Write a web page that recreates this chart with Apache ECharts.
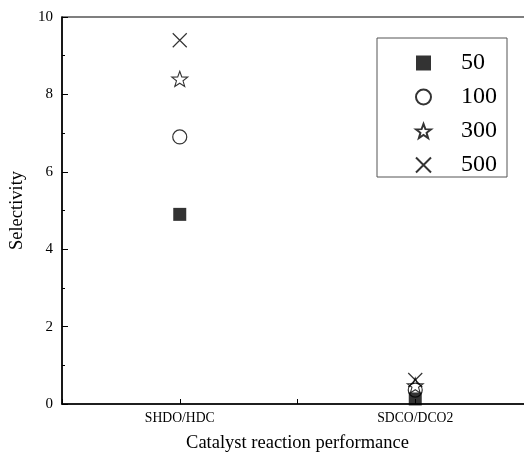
<!DOCTYPE html>
<html>
<head>
<meta charset="utf-8">
<script src="https://cdn.jsdelivr.net/npm/echarts@6/dist/echarts.min.js"></script>
<style>html,body{margin:0;padding:0;background:#fff}#c{width:524px;height:456px}</style>
</head>
<body>
<div id="c"></div>
<script>
// Data
const categories = ['SHDO/HDC', 'SDCO/DCO2'];
const seriesNames = ['50', '100', '300', '500'];
const vals50  = [4.9, 0.13];
const vals100 = [6.9, 0.36];
const vals300 = [8.4, 0.48];
const vals500 = [9.4, 0.62];
const yTicks = [0, 2, 4, 6, 8, 10];

const FONT = '"Liberation Serif", "Times New Roman", serif';
const STAR = 'path://M10,0L12.41,6.68L19.51,6.91L13.90,11.27L15.88,18.09L10,14.1L4.12,18.09L6.10,11.27L0.49,6.91L7.59,6.68Z';
const CROSS = 'path://M0,0L10,10M0,10L10,0';

const allVals = [vals50, vals100, vals300, vals500];
const styles = [
  { symbol: 'rect', symbolSize: 13, itemStyle: { color: '#000', borderColor: '#000', borderWidth: 0 } },
  { symbol: 'circle', symbolSize: 14, itemStyle: { color: 'rgba(0,0,0,0)', borderColor: '#000', borderWidth: 1.2 } },
  { symbol: STAR, symbolSize: 16, itemStyle: { color: 'rgba(0,0,0,0)', borderColor: '#000', borderWidth: 1.1 } },
  { symbol: CROSS, symbolSize: 14, itemStyle: { color: 'rgba(0,0,0,0)', borderColor: '#000', borderWidth: 1.2 } }
];

const series = seriesNames.map((n, i) => Object.assign({
  name: n,
  type: 'scatter',
  symbolKeepAspect: true,
  clip: false,
  data: allVals[i].map((v, j) => [j + 1, v])
}, styles[i]));

const chart = echarts.init(document.getElementById('c'), null, { renderer: 'canvas' });
chart.setOption({
  animation: false,
  backgroundColor: '#fff',
  textStyle: { fontFamily: FONT, color: '#000' },
  grid: {
    left: 62, top: 17, right: -9, bottom: 52,
    outerBoundsMode: 'none', containLabel: false,
    show: true, borderColor: '#000', borderWidth: 1.2, backgroundColor: 'transparent'
  },
  legend: {
    orient: 'vertical',
    left: 377, top: 38,
    padding: [13, 10, 0, 38],
    itemWidth: 15, itemHeight: 15, itemGap: 10,
    borderColor: '#555', borderWidth: 1,
    textStyle: { fontFamily: FONT, fontSize: 24, color: '#000', lineHeight: 24, padding: [0, 0, 0, 25] },
    data: seriesNames
  },
  xAxis: {
    type: 'value',
    min: 0.5, max: 2.5, interval: 0.5,
    name: 'Catalyst reaction performance',
    nameLocation: 'middle', nameGap: 30,
    nameTextStyle: { fontFamily: FONT, fontSize: 18.5, color: '#000' },
    axisLine: { show: true, lineStyle: { color: '#000', width: 1.5 } },
    axisTick: { show: true, inside: true, length: 5, lineStyle: { color: '#000', width: 1 } },
    axisLabel: {
      fontFamily: FONT, fontSize: 13.7, color: '#000', margin: 7,
      formatter: v => (Number.isInteger(v) && categories[v - 1]) ? categories[v - 1] : ''
    },
    splitLine: { show: false }
  },
  yAxis: {
    type: 'value',
    min: yTicks[0], max: yTicks[yTicks.length - 1], interval: 2,
    name: 'Selectivity',
    nameLocation: 'middle', nameGap: 34,
    nameTextStyle: { fontFamily: FONT, fontSize: 18.5, color: '#000' },
    axisLine: { show: true, lineStyle: { color: '#000', width: 1.5 } },
    axisTick: { show: true, inside: true, length: 6, lineStyle: { color: '#000', width: 1 } },
    minorTick: { show: true, splitNumber: 2, length: 3, lineStyle: { color: '#000', width: 1 } },
    axisLabel: { fontFamily: FONT, fontSize: 15, color: '#000', margin: 9 },
    splitLine: { show: false }
  },
  series: series
});
</script>
</body>
</html>
